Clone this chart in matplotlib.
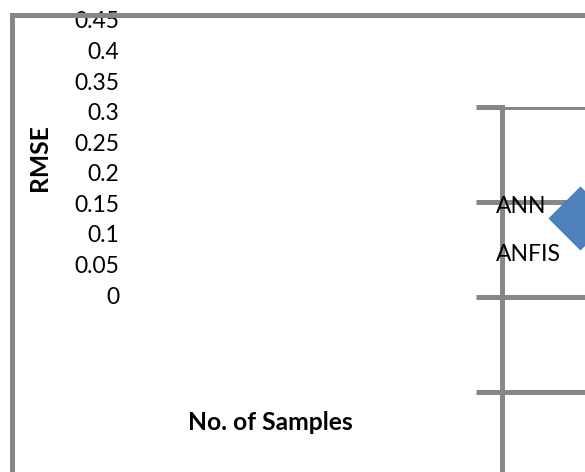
import matplotlib
matplotlib.use("Agg")
import matplotlib.pyplot as plt
from matplotlib.patches import Rectangle

plt.rcParams['font.family'] = ['Lato', 'DejaVu Sans']

# data (the chart holds no plotted points, only the axis and legend)
samples = []
ann_rmse = []
anfis_rmse = []
series_names = ['ANN', 'ANFIS']
rmse_ticks = [0, 0.05, 0.1, 0.15, 0.2, 0.25, 0.3, 0.35, 0.4, 0.45]
rmse_labels = ['0', '0.05', '0.1', '0.15', '0.2', '0.25', '0.3', '0.35', '0.4', '0.45']
grid_rows = [1, 2, 3, 4]

gray = '#878787'
fs = 16.5
fs_bold = 17.7

fig = plt.figure(figsize=(5.85, 4.72), dpi=100)

# main value axis
ax = fig.add_axes([125 / 585, 0.375, 290 / 585, 275 / 472])
ax.set_ylim(0, 0.45)
ax.set_yticks(rmse_ticks)
ax.set_yticklabels(rmse_labels)
ax.set_xticks([])
ax.tick_params(axis='y', length=0, pad=4.3, labelsize=fs)
for s in ax.spines.values():
    s.set_visible(False)
ax.set_ylabel('RMSE', fontsize=fs_bold, fontweight='bold')
ax.set_xlabel('No. of Samples', fontsize=fs_bold, fontweight='bold')
ax.yaxis.set_label_coords(-0.255, 0.5)
ax.xaxis.set_label_coords(0.5, -0.422)

ann = ax.scatter(samples, ann_rmse, marker='D', s=1000, color='#4F81BD',
                 edgecolor='#4A7EBB', linewidth=1, label=series_names[0])
anfis, = ax.plot(samples, anfis_rmse, linestyle='none', label=series_names[1])

# plot area grid on the right
ax2 = fig.add_axes([502.5 / 585, -0.0335, 0.3, 0.8078])
ax2.set_ylim(0, 4)
ax2.set_yticks(grid_rows)
ax2.set_yticklabels([])
ax2.set_xticks([])
ax2.set_facecolor('none')
ax2.grid(axis='y', color=gray, linewidth=3.6)
ax2.tick_params(axis='y', direction='out', length=18.4, width=3.6, color=gray)
for side in ['top', 'right', 'bottom']:
    ax2.spines[side].set_visible(False)
ax2.spines['left'].set_color(gray)
ax2.spines['left'].set_linewidth(3.6)
ax2.spines['left'].set_bounds(0, 4)

# outer chart border
fig.add_artist(Rectangle((11.5 / 585, -0.1), 1.2, (472 - 14.5) / 472 + 0.1,
                         transform=fig.transFigure, fill=False,
                         edgecolor=gray, linewidth=3.6, zorder=10))

fig.legend(handles=[ann, anfis], labels=series_names, loc='upper left',
           bbox_to_anchor=(557 / 585, (472 - 196) / 472),
           frameon=False, fontsize=fs, borderpad=0, borderaxespad=0,
           handlelength=2.0, handletextpad=-4.65, labelspacing=1.16,
           scatterpoints=1, scatteryoffsets=[-0.29])

fig.savefig('out.png', dpi=100)
